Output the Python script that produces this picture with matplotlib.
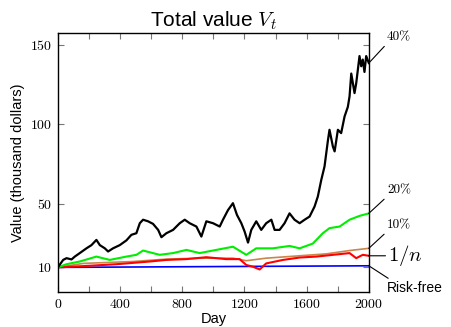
import matplotlib
matplotlib.use("Agg")
import matplotlib.pyplot as plt

plt.rcParams["mathtext.fontset"] = "cm"
plt.rcParams["axes.formatter.use_mathtext"] = True

# portfolio values (thousand dollars) sampled along the 2000 trading days
days_40 = [0, 34, 56, 88, 109, 141, 184, 216, 248, 270, 302, 323, 355, 398, 441,
           473, 505, 527, 548, 580, 612, 645, 666, 698, 741, 784, 816, 848, 891,
           923, 955, 998, 1041, 1062, 1094, 1126, 1152, 1180, 1201, 1223, 1244,
           1276, 1308, 1340, 1373, 1394, 1426, 1458, 1490, 1522, 1555, 1587,
           1619, 1651, 1672, 1694, 1715, 1737, 1747, 1769, 1780, 1801, 1822,
           1844, 1865, 1876, 1887, 1908, 1919, 1940, 1951, 1961, 1972, 1983, 2000]
val_40 = [10, 14.7, 15.8, 15, 16.8, 19, 22, 24, 27.3, 24, 22, 20, 22, 24, 27,
          30.5, 31.5, 37.8, 40, 39, 37.4, 33.6, 29, 31.5, 33.6, 37.8, 40, 37.8, 35.7,
          29.4, 39, 37.8, 35.7, 40, 46, 50.4, 43, 37.8, 32.6, 25.6, 33.6,
          39, 33.6, 37.8, 40, 33.6, 33.6, 37.8, 44, 40, 37.8, 40,
          42, 48.3, 54.6, 65, 73.5, 90, 96.6, 86, 83, 96.6, 94.5,
          105, 111, 117.6, 132, 119.7, 126, 143, 136.6, 140.8, 133, 143, 138.6]

days_20 = [0, 56, 141, 248, 334, 441, 505, 548, 655, 741, 827, 912, 1019, 1126,
           1212, 1276, 1383, 1490, 1555, 1640, 1704, 1747, 1812, 1876, 1940, 2000]
val_20 = [10, 12, 13.7, 16.8, 14.7, 16.8, 17.9, 20.6, 17.9, 19, 21, 19, 21, 23,
          17.9, 22, 22, 23.5, 22, 25, 31.5, 34.7, 35.7, 40, 42.4, 44]

days_10 = [0, 163, 484, 698, 912, 1126, 1212, 1340, 1555, 1726, 1876, 2000]
val_10 = [10, 12.5, 13.7, 15.2, 15.8, 15.8, 14.2, 15.8, 17.3, 18.5, 20.6, 22]

days_1n = [0, 163, 377, 591, 698, 827, 955, 1083, 1169, 1212, 1255, 1298, 1340,
           1448, 1555, 1662, 1769, 1876, 1919, 1961, 2000]
val_1n = [10, 10.8, 12, 13.7, 14.7, 15.2, 16.4, 15.2, 15.2, 11.5, 10.4, 8.7, 12.5,
          14.7, 16.2, 16.8, 17.9, 19, 15.8, 17.9, 17.3]

days_rf = [0, 2000]
val_rf = [10, 11]

fig = plt.figure(figsize=(4.52, 3.27), dpi=100)
ax = fig.add_axes([0.128, 0.107, 0.688, 0.792])

ax.plot(days_rf, val_rf, color="#0000ff", lw=1.2)
ax.plot(days_10, val_10, color="#c8864a", lw=1.2)
ax.plot(days_1n, val_1n, color="#ff0000", lw=1.5)
ax.plot(days_20, val_20, color="#00ee00", lw=1.5)
ax.plot(days_40, val_40, color="black", lw=1.6)

ax.set_xlim(0, 2000)
ax.set_ylim(-5.5, 157.5)
ax.set_xticks([0, 400, 800, 1200, 1600, 2000])
ax.set_xticks(range(0, 2001, 200), minor=True)
ax.set_yticks([10, 50, 100, 150])
ax.tick_params(which="both", direction="in", top=True, right=True,
               length=4, width=0.8, color="#777777", labelsize=10, pad=4)
for lab in ax.get_xticklabels() + ax.get_yticklabels():
    lab.set_fontfamily("cmr10")
for sp in ax.spines.values():
    sp.set_linewidth(1.0)

ax.set_title("Total value $V_t$", fontsize=15, family="Liberation Sans", pad=5)
ax.set_xlabel("Day", fontsize=10.5, family="Liberation Sans", labelpad=1)
ax.set_ylabel("Value (thousand dollars)", fontsize=10.5, family="Liberation Sans",
              labelpad=4)

# labels to the right of the axes, joined to each curve's final value
end_labels = [
    ("40%", val_40[-1], (13, 14), "cmr10", 9.5),
    ("20%", val_20[-1], (13, 12), "cmr10", 9.5),
    ("10%", val_10[-1], (13, 12), "cmr10", 9.5),
    ("$1/n$", val_1n[-1], (14, 0), None, 15),
    ("Risk-free", val_rf[-1], (13, -11), "Liberation Sans", 10),
]
for text, yv, off, fam, size in end_labels:
    kw = {"family": fam} if fam else {}
    va = "bottom" if off[1] > 0 else ("top" if off[1] < 0 else "center")
    rel = (0, 0) if va == "bottom" else (0, 0.5) if va == "center" else (0.1, 1)
    ax.annotate(text, xy=(2000, yv), xytext=off, textcoords="offset points",
                ha="left", va=va, fontsize=size, annotation_clip=False,
                arrowprops=dict(arrowstyle="-", color="black", lw=0.8,
                                shrinkA=0, shrinkB=0, relpos=rel),
                **kw)

fig.savefig("out.png", dpi=100)
